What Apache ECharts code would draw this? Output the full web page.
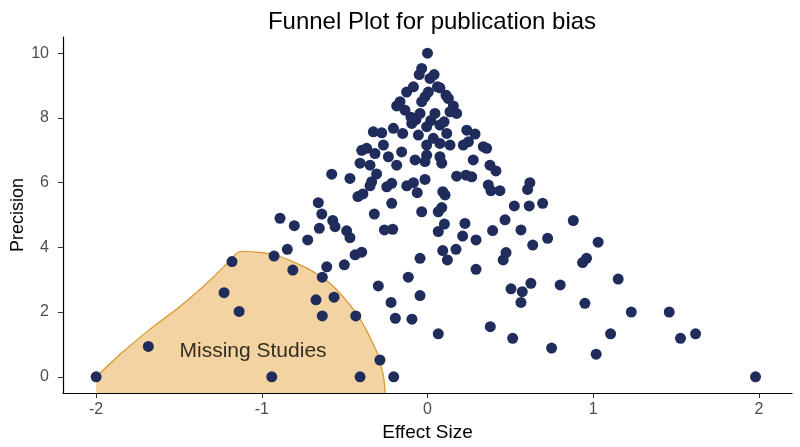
<!DOCTYPE html>
<html>
<head>
<meta charset="utf-8">
<script src="https://cdn.jsdelivr.net/npm/echarts@6/dist/echarts.min.js"></script>
<style>
  html, body { margin: 0; padding: 0; background: #fff; }
  #chart { width: 800px; height: 447px; }
</style>
</head>
<body>
<div id="chart"></div>
<script>
// tick labels
var xTicks = [-2, -1, 0, 1, 2];
var yTicks = [0, 2, 4, 6, 8, 10];

// observed studies: [effect size, precision]
var studies = [
  [0.00, 10.0], [-0.035, 9.53], [-0.05, 9.34], [0.04, 9.34], [0.015, 9.22],
  [-0.085, 8.96], [-0.126, 8.8], [0.06, 8.96], [0.075, 8.93], [0.005, 8.8],
  [-0.015, 8.65], [0.112, 8.7], [0.126, 8.6], [-0.166, 8.5], [-0.186, 8.37],
  [-0.035, 8.5], [0.156, 8.37], [-0.136, 8.24], [-0.045, 8.14], [0.045, 8.14],
  [0.136, 8.19], [0.176, 8.14], [-0.095, 7.83], [-0.005, 7.73], [0.075, 7.78],
  [-0.07, 7.95], [0.02, 7.92], [0.1, 7.88], [-0.1, 8.02],
  [-0.327, 7.57], [-0.276, 7.54], [-0.206, 7.68], [-0.15, 7.52], [-0.055, 7.47],
  [0.035, 7.37], [0.116, 7.52], [0.237, 7.62], [0.287, 7.5], [-0.266, 7.16],
  [-0.005, 7.16], [0.075, 7.21], [0.136, 7.16], [0.216, 7.16], [0.247, 7.26],
  [0.337, 7.11], [0.357, 7.06], [-0.397, 7.0], [-0.367, 7.06], [-0.317, 6.9],
  [-0.156, 6.95], [-0.236, 6.8], [-0.075, 6.7], [-0.005, 6.85], [-0.015, 6.65],
  [0.075, 6.8], [0.086, 6.6], [0.276, 6.7], [0.377, 6.54], [-0.407, 6.6],
  [-0.347, 6.54], [-0.186, 6.54],
  [0.413, 6.36], [0.176, 6.2], [0.232, 6.23], [0.267, 6.18], [-0.216, 5.98],
  [-0.125, 5.9], [-0.085, 6.0], [-0.015, 6.1], [-0.062, 5.69], [0.092, 5.72],
  [0.106, 5.62], [0.367, 5.93], [0.383, 5.75], [0.437, 5.75], [0.618, 6.0],
  [0.604, 5.79], [-0.216, 5.36], [-0.035, 5.1], [0.065, 5.1], [0.086, 5.23],
  [0.524, 5.28], [0.614, 5.28], [0.695, 5.36], [0.468, 4.85], [0.88, 4.83],
  [-0.21, 4.56], [0.102, 4.72], [0.065, 4.49], [0.226, 4.74], [0.212, 4.35],
  [0.293, 4.23], [0.393, 4.52], [0.564, 4.54], [0.635, 4.07], [0.725, 4.28],
  [0.092, 3.9], [0.12, 3.61], [0.172, 3.94], [-0.045, 3.66], [0.474, 3.84],
  [0.457, 3.61], [0.936, 3.53], [0.96, 3.66], [0.293, 3.32], [-0.116, 3.08],
  [-0.578, 6.26], [-0.468, 6.13], [-0.307, 6.27], [-0.337, 6.03], [-0.347, 5.9],
  [-0.246, 5.87], [-0.42, 5.57], [-0.39, 5.65], [-0.659, 5.38], [-0.638, 5.03],
  [-0.321, 5.03], [-0.89, 4.9], [-0.804, 4.67], [-0.653, 4.59], [-0.572, 4.83],
  [-0.558, 4.64], [-0.488, 4.51], [-0.468, 4.3], [-0.26, 4.54], [-0.723, 4.23],
  [-0.846, 3.94], [-0.926, 3.73], [-1.18, 3.56], [-0.813, 3.3], [-0.608, 3.4],
  [-0.502, 3.46], [-0.437, 3.77], [-0.397, 3.85], [-0.635, 3.08],
  [-2.0, 0.0], [-1.685, 0.94], [-1.228, 2.6], [-1.137, 2.02], [-0.673, 2.38],
  [-0.635, 1.88], [-0.94, 0.0], [-0.297, 2.81], [-0.564, 2.46], [-0.22, 2.3],
  [-0.045, 2.51], [-0.433, 1.88], [-0.194, 1.81], [-0.094, 1.78], [0.065, 1.33],
  [0.379, 1.55], [0.514, 1.19], [0.504, 2.72], [0.572, 2.63], [0.624, 2.89],
  [0.564, 2.3], [-0.287, 0.52], [-0.407, 0.0], [-0.204, 0.0],
  [1.03, 4.16], [1.151, 3.02], [0.801, 2.84], [0.95, 2.27], [1.23, 2.0],
  [1.459, 2.0], [1.105, 1.33], [1.527, 1.19], [1.618, 1.33], [0.749, 0.89],
  [1.018, 0.7], [1.98, 0.0]
];

// outline of the "missing studies" region
var missingEdge = [
  [-2.0, 0.0], [-1.85, 0.72], [-1.68, 1.45], [-1.5, 2.15], [-1.33, 2.9],
  [-1.22, 3.45], [-1.13, 3.88], [-1.03, 3.85], [-0.93, 3.78], [-0.85, 3.64],
  [-0.77, 3.46], [-0.70, 3.28], [-0.63, 3.05], [-0.57, 2.8], [-0.51, 2.48],
  [-0.46, 2.17], [-0.41, 1.81], [-0.37, 1.45], [-0.33, 1.04], [-0.30, 0.7],
  [-0.28, 0.32], [-0.265, 0.0], [-0.255, -0.5]
];
var missingLabel = [[-1.053, 0.8]];

var myChart = echarts.init(document.getElementById("chart"));
var font = "'Liberation Sans', Arial, Helvetica, sans-serif";

var option = {
  backgroundColor: "#fff",
  animation: false,
  title: {
    text: "Funnel Plot for publication bias",
    left: 427,
    textAlign: "center",
    top: 5,
    textStyle: { fontFamily: font, fontSize: 24, fontWeight: "normal", color: "#000" }
  },
  grid: { left: 63, right: 8, top: 37, bottom: 54, outerBoundsMode: "none" },
  xAxis: {
    type: "value",
    min: -2.2,
    max: 2.2,
    name: "Effect Size",
    nameLocation: "middle",
    nameGap: 30,
    nameMoveOverlap: false,
    nameTextStyle: { fontFamily: font, fontSize: 19, color: "#000" },
    splitLine: { show: false },
    axisLine: { show: true, onZero: false, lineStyle: { color: "#000", width: 1.2 } },
    axisTick: { show: true, length: 5, customValues: xTicks, lineStyle: { color: "#333" } },
    axisLabel: { customValues: xTicks, fontFamily: font, fontSize: 16, color: "#4d4d4d", margin: 9 }
  },
  yAxis: {
    type: "value",
    min: -0.5,
    max: 10.5,
    name: "Precision",
    nameLocation: "middle",
    nameGap: 36,
    nameMoveOverlap: false,
    nameTextStyle: { fontFamily: font, fontSize: 18, color: "#000" },
    splitLine: { show: false },
    axisLine: { show: true, onZero: false, lineStyle: { color: "#000", width: 1.2 } },
    axisTick: { show: true, length: 5, customValues: yTicks, lineStyle: { color: "#333" } },
    axisLabel: { customValues: yTicks, fontFamily: font, fontSize: 16, color: "#4d4d4d", margin: 14 }
  },
  series: [
    {
      type: "line",
      data: missingEdge,
      showSymbol: false,
      smooth: 0.2,
      silent: true,
      lineStyle: { color: "#d8952a", width: 1.2 },
      areaStyle: { color: "#f3d3a1", opacity: 1, origin: "start" },
      z: 1
    },
    {
      type: "scatter",
      data: studies,
      symbolSize: 11,
      itemStyle: { color: "#1f2c5c", opacity: 1 },
      z: 3
    },
    {
      type: "scatter",
      data: missingLabel,
      symbolSize: 0,
      silent: true,
      label: {
        show: true,
        position: "inside",
        formatter: "Missing Studies",
        fontFamily: font,
        fontSize: 21,
        color: "#000",
        textBorderWidth: 0
      },
      z: 2
    }
  ]
};

myChart.setOption(option);
window.addEventListener("resize", function () {
  myChart.resize();
});
</script>
</body>
</html>
